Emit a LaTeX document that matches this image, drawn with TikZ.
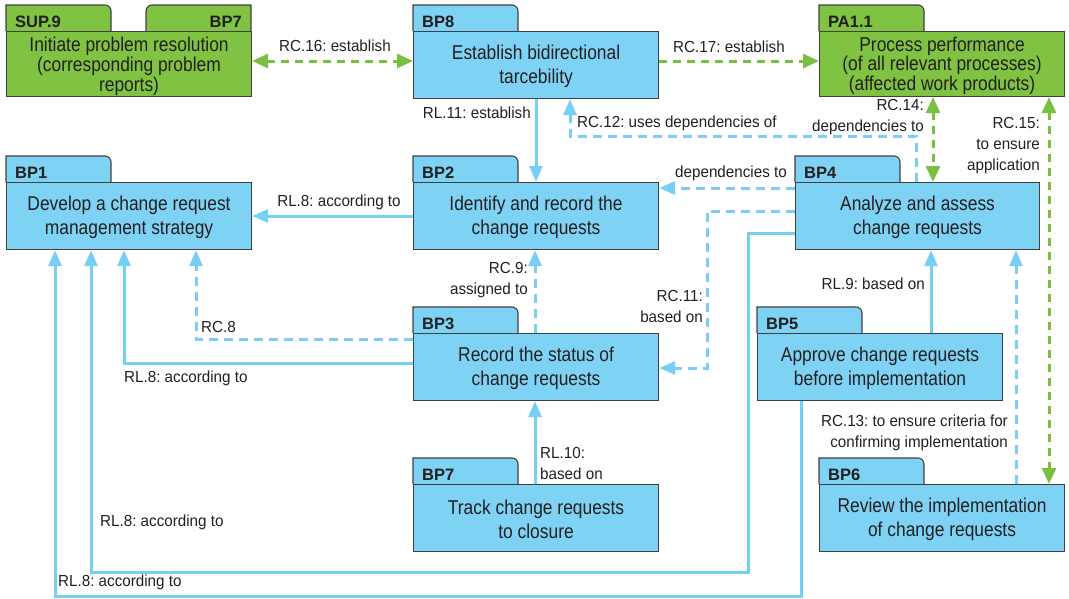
\documentclass[tikz,border=0pt]{standalone}
\usepackage{fontspec}
\setmainfont{Liberation Sans}
\newfontfamily\bodyfont[FakeStretch=0.87]{Liberation Sans}
\newfontfamily\lblfont[FakeStretch=0.95]{Liberation Sans}
\usetikzlibrary{arrows.meta,backgrounds}
\frenchspacing

\definecolor{boxblue}{RGB}{126,211,245}
\definecolor{boxgreen}{RGB}{128,194,66}
\definecolor{lineblue}{RGB}{120,207,244}
\definecolor{linegreen}{RGB}{122,192,64}
\definecolor{ink}{RGB}{35,31,32}
\definecolor{frame}{RGB}{64,64,64}

\tikzset{
  body/.style={draw=frame, line width=1.1pt, inner sep=0pt, anchor=north west,
    align=center, text=ink, font=\bodyfont\fontsize{20}{24}\selectfont},
  tabshape/.style={draw=frame, line width=1.1pt},
  tabtext/.style={inner sep=0pt, text=ink, font=\fontsize{16.5}{18}\selectfont\bfseries},
  lbl/.style={inner sep=0pt, text=ink, font=\lblfont\fontsize{16}{21}\selectfont},
  bsolid/.style={draw=lineblue, line width=3pt, -{Triangle[length=16pt,width=13pt]}},
  bdash/.style={bsolid, dash pattern=on 9pt off 6pt},
  gdash/.style={draw=linegreen, line width=3pt, dash pattern=on 8pt off 6pt},
  gone/.style={gdash, -{Triangle[length=16pt,width=14pt]}},
  gtwo/.style={gdash, {Triangle[length=16pt,width=14pt]}-{Triangle[length=16pt,width=14pt]}},
}

% folder tab on the left of a box: #1 left x, #2 body top y, #3 fill
\newcommand\foldertab[3]{%
  \filldraw[tabshape, fill=#3] (#1,#2) -- (#1,{#2-26}) -- ({#1+99},{#2-26})
    arc[start angle=-90, end angle=0, radius=6] -- ({#1+105},#2);}

\begin{document}
\begin{tikzpicture}[x=1pt, y=-1pt]
\useasboundingbox (0,0) rectangle (1069,598);

% ---- SUP.9 (two tabs) ----
\foldertab{6}{31}{boxgreen}
\filldraw[tabshape, fill=boxgreen] (146,31) -- (146,11)
  arc[start angle=180, end angle=270, radius=6] -- (251,5) -- (251,31);
\node[body, fill=boxgreen, minimum width=245pt, minimum height=65pt,
  font=\bodyfont\fontsize{20}{18.5}\selectfont] (sup9) at (6,31)
  {\rule{0pt}{19pt}Initiate problem resolution\\(corresponding problem\\reports)};
\node[tabtext, anchor=base west] (sup9t) at (15,27) {SUP.9};
\node[tabtext, anchor=base east] (sup9r) at (242,27) {BP7};

% ---- BP8 ----
\foldertab{413}{31}{boxblue}
\node[body, fill=boxblue, minimum width=245pt, minimum height=67pt] (bp8) at (413,31)
  {\rule{0pt}{18pt}Establish bidirectional\\tarcebility};
\node[tabtext, anchor=base west] (bp8t) at (422,27) {BP8};

% ---- PA1.1 ----
\foldertab{819}{31}{boxgreen}
\node[body, fill=boxgreen, minimum width=245pt, minimum height=65pt,
  font=\bodyfont\fontsize{20}{19.5}\selectfont] (pa11) at (819,31)
  {\rule{0pt}{18pt}Process performance\\(of all relevant processes)\\(affected work products)};
\node[tabtext, anchor=base west] (pa11t) at (828,27) {PA1.1};

% ---- BP1 ----
\foldertab{6}{182}{boxblue}
\node[body, fill=boxblue, minimum width=245pt, minimum height=67pt] (bp1) at (6,182)
  {\rule{0pt}{18pt}Develop a change request\\management strategy};
\node[tabtext, anchor=base west] (bp1t) at (15,178) {BP1};

% ---- BP2 ----
\foldertab{413}{182}{boxblue}
\node[body, fill=boxblue, minimum width=245pt, minimum height=67pt] (bp2) at (413,182)
  {\rule{0pt}{18pt}Identify and record the\\change requests};
\node[tabtext, anchor=base west] (bp2t) at (422,178) {BP2};

% ---- BP4 ----
\foldertab{795}{182}{boxblue}
\node[body, fill=boxblue, minimum width=244pt, minimum height=67pt] (bp4) at (795,182)
  {\rule{0pt}{18pt}Analyze and assess\\change requests};
\node[tabtext, anchor=base west] (bp4t) at (804,178) {BP4};

% ---- BP3 ----
\foldertab{413}{333}{boxblue}
\node[body, fill=boxblue, minimum width=245pt, minimum height=67pt] (bp3) at (413,333)
  {\rule{0pt}{18pt}Record the status of\\change requests};
\node[tabtext, anchor=base west] (bp3t) at (422,329) {BP3};

% ---- BP5 ----
\foldertab{757}{333}{boxblue}
\node[body, fill=boxblue, minimum width=245pt, minimum height=67pt] (bp5) at (757,333)
  {\rule{0pt}{18pt}Approve change requests\\before implementation};
\node[tabtext, anchor=base west] (bp5t) at (766,329) {BP5};

% ---- BP7 ----
\foldertab{413}{484}{boxblue}
\node[body, fill=boxblue, minimum width=245pt, minimum height=67pt] (bp7) at (413,484)
  {\rule{0pt}{18pt}Track change requests\\to closure};
\node[tabtext, anchor=base west] (bp7t) at (422,480) {BP7};

% ---- BP6 ----
\foldertab{819}{484}{boxblue}
\node[body, fill=boxblue, minimum width=245pt, minimum height=67pt] (bp6) at (819,484)
  {\rule{0pt}{18pt}Review the implementation\\of change requests};
\node[tabtext, anchor=base west] (bp6t) at (828,480) {BP6};

% ---- connectors ----
\begin{scope}[on background layer]
  \draw[gtwo] (sup9.east |- 0,61) -- (bp8.west |- 0,61);
  \draw[gone] (bp8.east |- 0,61) -- (pa11.west |- 0,61);
  \draw[bsolid] (bp8.south -| 536,0) -- (bp2.north -| 536,0);
  \draw[bdash] (bp4.north -| 916,0) |- (570,136) -- (bp8.south -| 570,0);
  \draw[gtwo] (pa11.south -| 933,0) -- (bp4.north -| 933,0);
  \draw[gtwo] (pa11.south -| 1049,0) -- (bp6.north -| 1049,0);
  \draw[bdash] (bp4.west |- 0,188) -- (bp2.east |- 0,188);
  \draw[bdash] (bp4.west |- 0,211) -| (707,368) -- (bp3.east |- 0,368);
  \draw[bsolid] (bp4.west |- 0,233) -| (748,572) -| (bp1.south -| 91,0);
  \draw[bsolid] (bp5.south -| 801,0) |- (55,596) -- (bp1.south -| 55,0);
  \draw[bsolid] (bp3.west |- 0,363) -| (bp1.south -| 124,0);
  \draw[bdash] (bp3.west |- 0,339) -| (bp1.south -| 196,0);
  \draw[bsolid] (bp2.west |- 0,216) -- (bp1.east |- 0,216);
  \draw[bdash] (bp3.north -| 535,0) -- (bp2.south -| 535,0);
  \draw[bsolid] (bp7.north -| 535,0) -- (bp3.south -| 535,0);
  \draw[bsolid] (bp5.north -| 931,0) -- (bp4.south -| 931,0);
  \draw[bdash] (bp6.north -| 1016,0) -- (bp4.south -| 1016,0);
\end{scope}

% ---- connector labels ----
\node[lbl] (lrc16) at (335,46) {RC.16: establish};
\node[lbl] (lrc17) at (729,47) {RC.17: establish};
\node[lbl, anchor=east] (lrl11) at (531,113) {RL.11: establish};
\node[lbl, anchor=west] (lrc12) at (577,123) {RC.12: uses dependencies of};
\node[lbl, anchor=east, align=right] (lrc14) at (924,117) {RC.14:\\dependencies to};
\node[lbl, anchor=east, align=right] (lrc15) at (1040,146) {RC.15:\\to ensure\\application};
\node[lbl] (ldep) at (731,173) {dependencies to};
\node[lbl] (lrl8a) at (339,202) {RL.8: according to};
\node[lbl, anchor=east, align=right] (lrc9) at (528,280) {RC.9:\\assigned to};
\node[lbl, anchor=east, align=right] (lrc11) at (703,306) {RC.11:\\based on};
\node[lbl, anchor=east] (lrl9) at (925,284) {RL.9: based on};
\node[lbl, anchor=west] (lrc8) at (201,327) {RC.8};
\node[lbl, anchor=west] (lrl8b) at (124,378) {RL.8: according to};
\node[lbl, anchor=east, align=right] (lrc13) at (1008,433) {RC.13: to ensure criteria for\\confirming implementation};
\node[lbl, anchor=west, align=left] (lrl10) at (540,463) {RL.10:\\based on};
\node[lbl, anchor=west] (lrl8c) at (100,522) {RL.8: according to};
\node[lbl, anchor=west] (lrl8d) at (58,582) {RL.8: according to};
\end{tikzpicture}
\end{document}
